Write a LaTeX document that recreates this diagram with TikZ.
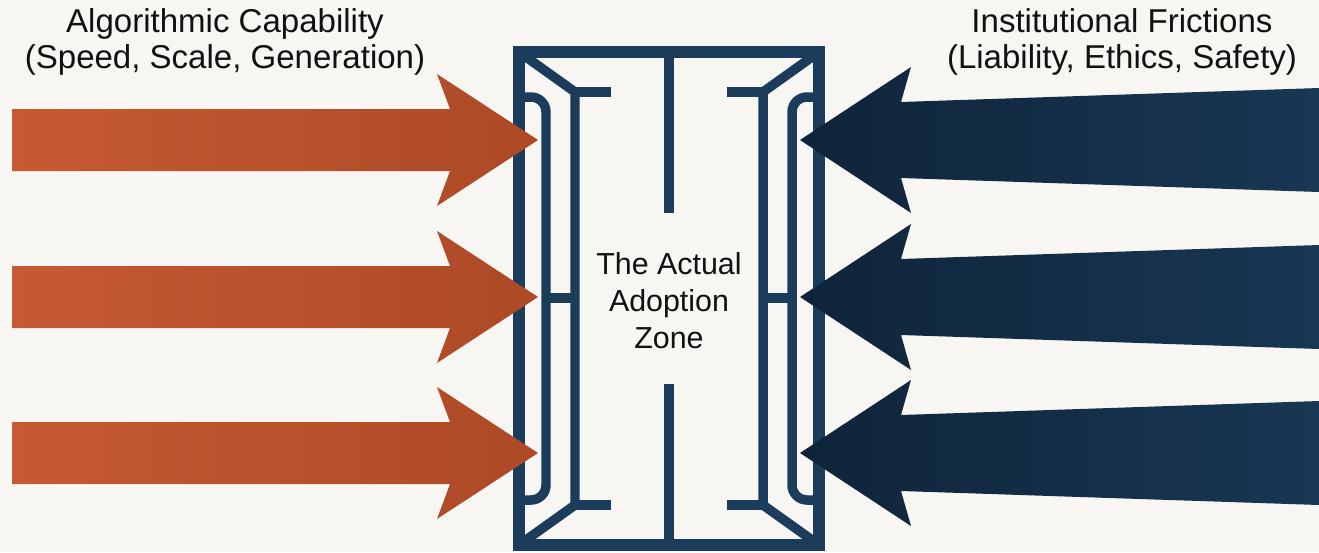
\documentclass[tikz,border=0pt]{standalone}
\usepackage{fontspec}
\setmainfont{Liberation Sans}
\usetikzlibrary{calc}

\begin{document}
\begin{tikzpicture}[x=0.02cm, y=-0.02cm,
    frameLine/.style={draw=frameColour, line width=6.5pt, line join=miter},
    innerLine/.style={draw=frameColour, line width=5.4pt},
    headText/.style={align=center, text=textColour, font=\fontsize{18.8}{20}\selectfont},
    zoneText/.style={align=center, text=textColour, font=\fontsize{17.3}{21}\selectfont}]
    % Define colours
    \definecolor{paperColour}{HTML}{F7F6F2}
    \definecolor{frameColour}{HTML}{1B3C5B}
    \definecolor{pushColour}{HTML}{C65A33}
    \definecolor{pushDark}{HTML}{AD4926}
    \definecolor{frictionColour}{HTML}{183753}
    \definecolor{frictionDark}{HTML}{0F243A}
    \definecolor{textColour}{HTML}{111111}

    % Background and picture size
    \fill[paperColour] (0,0) rectangle (1319,552);
    \useasboundingbox (0,0) rectangle (1319,552);

    % Define the centre of the zone
    \coordinate (centre) at (669,298);

    % Draw the outer frame
    \draw[frameLine] (519,52) rectangle (819,545);

    % Draw the centre posts
    \draw[innerLine] (669,52) -- (669,213);
    \draw[innerLine] (669,384) -- (669,545);

    % Draw both halves, the right one mirrored
    \foreach \side in {1,-1} {
        \begin{scope}[shift={(centre)}, xscale=\side]
            \draw[innerLine, rounded corners=0.3cm] (-150,-201) -- (-123,-201) -- (-123,202) -- (-150,202);
            \draw[innerLine, line join=miter] (-150,-246) -- (-94,-206) -- (-94,207) -- (-150,247);
            \draw[innerLine] (-94,-206) -- (-58,-206);
            \draw[innerLine] (-94,207) -- (-58,207);
            \draw[innerLine] (-123,0) -- (-94,0);
        \end{scope}
    }

    % Arrows pushing in from the left
    \foreach \y [count=\i] in {140,297,453} {
        \coordinate (leftTip\i) at (538,\y);
        \shade[left color=pushColour, right color=pushDark]
            (leftTip\i) -- ($(leftTip\i)+(-101,-66)$) -- ($(leftTip\i)+(-88,-31)$)
            -- ($(leftTip\i)+(-526,-31)$) -- ($(leftTip\i)+(-526,31)$)
            -- ($(leftTip\i)+(-88,31)$) -- ($(leftTip\i)+(-101,66)$) -- cycle;
    }

    % Arrows pushing back from the right
    \foreach \y [count=\i] in {140,297,453} {
        \coordinate (rightTip\i) at (800,\y);
        \shade[left color=frictionDark, right color=frictionColour]
            (rightTip\i) -- ($(rightTip\i)+(111,-73)$) -- ($(rightTip\i)+(101,-38)$)
            -- ($(rightTip\i)+(519,-52)$) -- ($(rightTip\i)+(519,52)$)
            -- ($(rightTip\i)+(101,38)$) -- ($(rightTip\i)+(111,73)$) -- cycle;
    }

    % Labels
    \node[headText] (capability) at (225,42) {Algorithmic Capability\\(Speed, Scale, Generation)};
    \node[headText] (frictions) at (1122,42) {Institutional Frictions\\(Liability, Ethics, Safety)};
    \node[zoneText] (zone) at (669,301) {The Actual\\Adoption\\Zone};

\end{tikzpicture}
\end{document}
